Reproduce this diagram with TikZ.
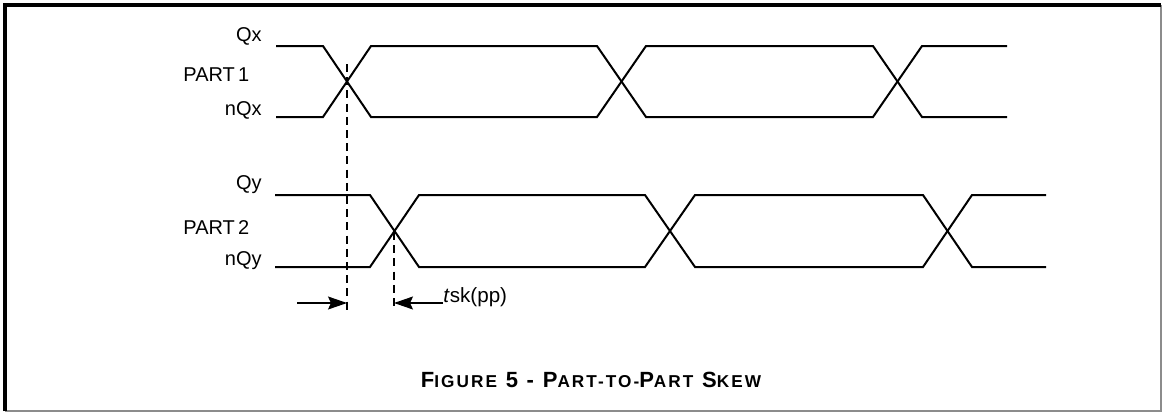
\documentclass[tikz,border=0pt]{standalone}
\usepackage{fontspec}
\setmainfont{Liberation Sans}
\newfontfamily\capfont{Liberation Sans}[LetterSpace=12]
\usetikzlibrary{arrows.meta}
\newcommand{\capsmall}[1]{{\fontsize{8.6}{9}\selectfont #1}}

\begin{document}
\begin{tikzpicture}[x=0.5pt,y=-0.5pt,
  wave/.style={line width=1pt,line join=miter},
  guide/.style={line width=0.55pt,dash pattern=on 4pt off 2.6pt},
  skew/.style={line width=0.6pt,-{Stealth[length=9.5pt,width=6.5pt,inset=1.5pt]}},
  lbl/.style={font=\fontsize{10}{12}\selectfont,inner sep=0pt}]

\useasboundingbox (0,0) rectangle (1163,413);

% frame
\draw[black!45,line width=1pt] (1161,5)--(1161,411)--(5,411);
\draw[black,line width=1.6pt] (5,411)--(5,5)--(1161,5);

% part 1
\node (qx)[lbl,anchor=east] at (262,36) {Qx};
\node (p1)[lbl,anchor=west] at (183,75) {PART\,1};
\node (nqx)[lbl,anchor=east] at (262,110) {nQx};

\draw[wave] (276,46)--(323,46)--(371,117)--(597,117)--(646,46)--(873,46)--(922,117)--(1007,117);
\draw[wave] (276,117)--(323,117)--(371,46)--(597,46)--(646,117)--(873,117)--(922,46)--(1007,46);

% part 2
\node (qy)[lbl,anchor=east] at (262,185) {Qy};
\node (p2)[lbl,anchor=west] at (183,228) {PART\,2};
\node (nqy)[lbl,anchor=east] at (262,261) {nQy};

\draw[wave] (275,195)--(370,195)--(419,267)--(645,267)--(695,195)--(923,195)--(972,267)--(1046,267);
\draw[wave] (275,267)--(370,267)--(419,195)--(645,195)--(695,267)--(923,267)--(972,195)--(1046,195);

% skew markers
\coordinate (x1) at (347,64);
\coordinate (x1b) at (347,310);
\coordinate (x2) at (394,232);
\coordinate (x2b) at (394,310);
\draw[guide] (x1)--(x1b);
\draw[guide] (x2)--(x2b);

\coordinate (a1) at (297,303);
\coordinate (a2) at (443,303);
\draw[skew] (a1)--(a1-|x1);
\draw[skew] (a2)--(a2-|x2);
\node (tsk)[lbl,anchor=west,font=\fontsize{10.3}{12}\selectfont] at (443,297) {\textit{t}sk(pp)};

% caption
\node (cap)[inner sep=0pt] at (591,380) {\capfont\bfseries\fontsize{11}{12}\selectfont F\capsmall{IGURE} 5 - P\capsmall{ART-TO-}P\capsmall{ART} S\capsmall{KEW}};

\end{tikzpicture}
\end{document}
